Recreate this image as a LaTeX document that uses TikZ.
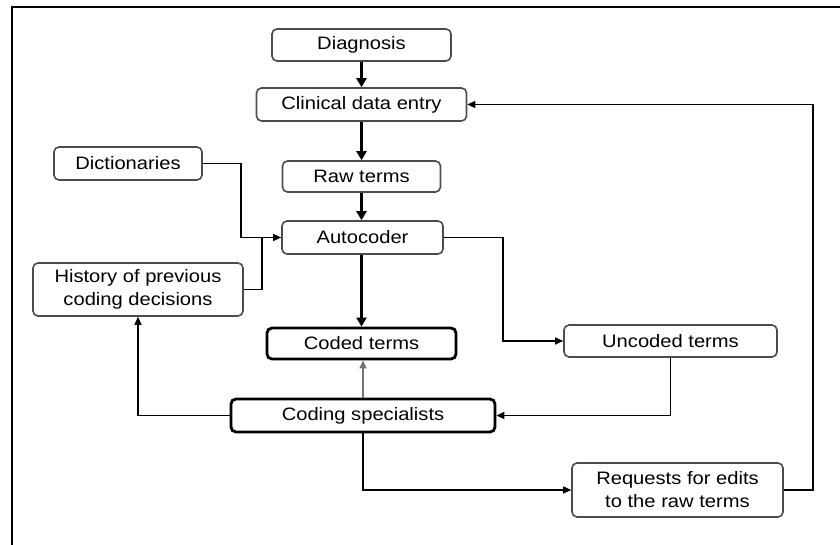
\documentclass[tikz,border=0pt]{standalone}
\usepackage{fontspec}
\setmainfont{Liberation Sans}[FakeStretch=1.12]
\usetikzlibrary{arrows.meta}
\tikzset{
  box/.style={draw=black!70, line width=1.6pt, rounded corners=5pt, inner sep=0pt, align=center, font=\fontsize{18}{23}\selectfont, text=black},
  boldbox/.style={box, draw=black, line width=2.8pt},
  thick arrow/.style={line width=2.8pt, -{Triangle[length=9pt,width=10pt]}},
  thin arrow/.style={line width=1.4pt, -{Triangle[length=8pt,width=7pt]}},
  thin line/.style={line width=1.4pt},
  gray arrow/.style={line width=1.4pt, draw=black!55, -{Triangle[length=8pt,width=7pt]}, fill=black!80},
}
\begin{document}
\begin{tikzpicture}[x=1pt,y=-1pt]
\useasboundingbox (0,0) rectangle (840,545);
\draw[line width=2pt] (12,545) -- (12,7) -- (840,7);

\node[box, minimum width=179, minimum height=32] (diag) at (361.5,45) {Diagnosis};
\node[box, minimum width=210, minimum height=33] (clin) at (361.5,104.5) {Clinical data entry};
\node[box, minimum width=158, minimum height=31] (raw) at (361.5,176.5) {Raw terms};
\node[box, minimum width=161, minimum height=33] (auto) at (362.5,237.5) {Autocoder};
\node[box, minimum width=148, minimum height=33] (dict) at (128,163.5) {Dictionaries};
\node[box, minimum width=210, minimum height=53] (hist) at (138,289.5) {History of previous\\coding decisions};
\node[boldbox, minimum width=189, minimum height=31] (coded) at (361.5,343.5) {Coded terms};
\node[boldbox, minimum width=264, minimum height=33] (cs) at (363,415.5) {Coding specialists};
\node[box, minimum width=213, minimum height=32] (unc) at (670.5,341) {Uncoded terms};
\node[box, minimum width=211, minimum height=54] (req) at (677.5,490) {Requests for edits\\to the raw terms};

\coordinate (j1) at (241,237.5);
\coordinate (j2) at (262,237.5);
\coordinate (j3) at (503,341);
\coordinate (j4) at (813,104.5);

\draw[thick arrow] (diag.south) -- (clin.north);
\draw[thick arrow] (clin.south) -- (raw.north);
\draw[thick arrow] (raw.south) -- (raw.south |- auto.north);
\draw[thick arrow] (auto.south -| coded.north) -- (coded.north);

\draw[thin arrow] (dict.east) -| (j1) -- (auto.west);
\draw[thin line] (hist.east) -| (j2);
\draw[thin arrow] (auto.east) -| (j3) -- (unc.west);
\draw[thin arrow] (unc.south) |- (cs.east);
\draw[thin arrow] (cs.west) -| (hist.south);
\draw[gray arrow] (cs.north) -- (cs.north |- coded.south);
\draw[thin arrow] (cs.south) |- (req.west);
\draw[thin arrow] (req.east) -| (j4) -- (clin.east);
\end{tikzpicture}
\end{document}
